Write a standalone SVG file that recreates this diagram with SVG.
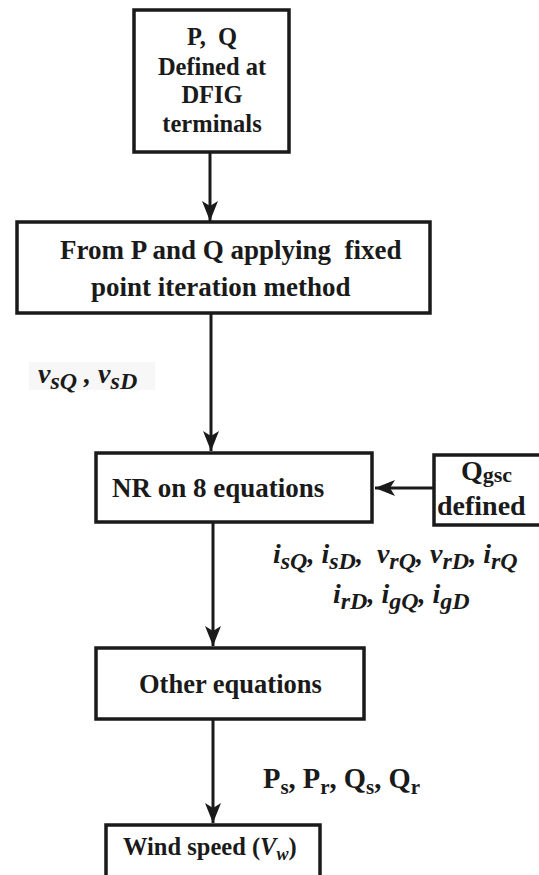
<svg xmlns="http://www.w3.org/2000/svg" width="539" height="875" viewBox="0 0 539 875">
<style>
.box{fill:#fff;stroke:#1a1a1a;stroke-width:3.5}
.c{stroke:#1a1a1a;stroke-width:3;fill:none}
</style>
<defs>
<marker id="ah" viewBox="0 0 20 20" refX="20" refY="10" markerWidth="20" markerHeight="20" markerUnits="userSpaceOnUse" orient="auto">
<path d="M0,2 L20,10 L0,18 L5,10 Z" fill="#1a1a1a"/>
</marker>
</defs>
<rect width="539" height="875" fill="#fff"/>
<g id="connectors">
<line class="c" x1="210" y1="152" x2="210" y2="221" marker-end="url(#ah)"/>
<line class="c" x1="211" y1="313" x2="211" y2="451" marker-end="url(#ah)"/>
<line class="c" x1="433" y1="488" x2="375" y2="488" marker-end="url(#ah)"/>
<line class="c" x1="213" y1="522" x2="213" y2="646" marker-end="url(#ah)"/>
<line class="c" x1="213" y1="719" x2="213" y2="823" marker-end="url(#ah)"/>
</g>
<g font-family="'Liberation Serif', 'Times New Roman', serif" font-weight="bold" fill="#1a1a1a">
<g id="node-pq">
<rect class="box" x="134" y="10" width="155" height="142"/>
<text font-size="24.5" text-anchor="middle" x="212" y="45" xml:space="preserve">P,  Q</text>
<text font-size="24.5" text-anchor="middle" x="212" y="75">Defined at</text>
<text font-size="24.5" text-anchor="middle" x="212" y="103">DFIG</text>
<text font-size="24.5" text-anchor="middle" x="212" y="132">terminals</text>
</g>
<g id="node-fixed">
<rect class="box" x="17" y="222" width="413" height="91"/>
<text font-size="27" x="60" y="259" xml:space="preserve">From P and Q applying  fixed</text>
<text font-size="27" x="91" y="296">point iteration method</text>
</g>
<g id="label-vs" font-style="italic">
<rect x="29" y="362" width="126" height="28" fill="#f7f7f7"/>
<text font-size="28" x="38" y="383" xml:space="preserve">v<tspan font-size="24" dy="6">sQ</tspan><tspan dy="-6"> , v</tspan><tspan font-size="24" dy="6">sD</tspan></text>
</g>
<g id="node-nr">
<rect class="box" x="96" y="453" width="276" height="69"/>
<text font-size="27" x="112" y="497">NR on 8 equations</text>
</g>
<g id="node-qgsc">
<rect class="box" x="434" y="455" width="110" height="70"/>
<text font-size="28" x="461" y="480">Q<tspan font-size="22" dy="2">gsc</tspan></text>
<text font-size="28" x="437" y="515">defined</text>
</g>
<g id="label-currents" font-style="italic">
<text font-size="28" x="273" y="563" xml:space="preserve">i<tspan font-size="24" dy="6">sQ</tspan><tspan dy="-6">, i</tspan><tspan font-size="24" dy="6">sD</tspan><tspan dy="-6">,  v</tspan><tspan font-size="24" dy="6">rQ</tspan><tspan dy="-6">, v</tspan><tspan font-size="24" dy="6">rD</tspan><tspan dy="-6">, i</tspan><tspan font-size="24" dy="6">rQ</tspan></text>
<text font-size="28" x="333" y="603" xml:space="preserve">i<tspan font-size="24" dy="6">rD</tspan><tspan dy="-6">, i</tspan><tspan font-size="24" dy="6">gQ</tspan><tspan dy="-6">, i</tspan><tspan font-size="24" dy="6">gD</tspan></text>
</g>
<g id="node-other">
<rect class="box" x="96" y="648" width="268" height="71"/>
<text font-size="26.5" x="139" y="693">Other equations</text>
</g>
<g id="label-powers">
<text font-size="28.5" x="263" y="788" xml:space="preserve">P<tspan font-size="21" dy="6">s</tspan><tspan dy="-6">, P</tspan><tspan font-size="21" dy="6">r</tspan><tspan dy="-6">, Q</tspan><tspan font-size="21" dy="6">s</tspan><tspan dy="-6">, Q</tspan><tspan font-size="21" dy="6">r</tspan></text>
</g>
<g id="node-wind">
<rect class="box" x="106" y="825" width="214" height="60"/>
<text font-size="24.5" x="123" y="855" xml:space="preserve">Wind speed (<tspan font-style="italic">V</tspan><tspan font-style="italic" font-size="18" dy="5">w</tspan><tspan dy="-5">)</tspan></text>
</g>
</g>
</svg>
